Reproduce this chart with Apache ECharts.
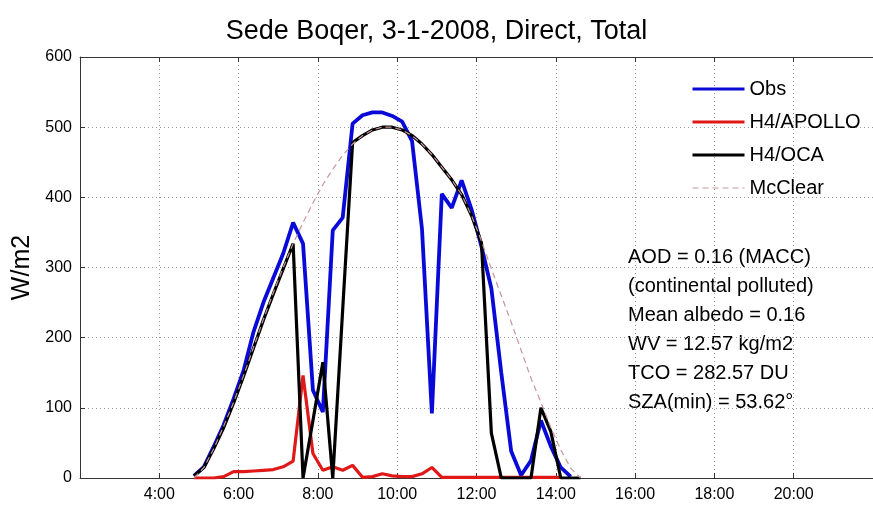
<!DOCTYPE html>
<html>
<head>
<meta charset="utf-8">
<script src="https://cdn.jsdelivr.net/npm/echarts@6/dist/echarts.min.js"></script>
<style>
    html, body {margin: 0; padding: 0; background: #fff;}
    #chart {width: 873px; height: 507px;}
</style>
</head>
<body>
<div id="chart"></div>
<script>
// время (часы, шаг 15 мин)
const times = [4.875, 5.125, 5.375, 5.625, 5.875, 6.125, 6.375, 6.625, 6.875, 7.125,
    7.375, 7.625, 7.875, 8.125, 8.375, 8.625, 8.875, 9.125, 9.375, 9.625,
    9.875, 10.125, 10.375, 10.625, 10.875, 11.125, 11.375, 11.625, 11.875, 12.125,
    12.375, 12.625, 12.875, 13.125, 13.375, 13.625, 13.875, 14.125, 14.375, 14.625]

const obs = [3, 16, 45, 76, 113, 153, 208, 250, 285, 320,
    364, 334, 125, 94, 353, 371, 505, 517, 521, 521,
    516, 508, 480, 355, 92, 405, 385, 424, 383, 330,
    270, 150, 38, 4, 25, 82, 45, 15, 2, null]

const apollo = [0, 0, 0, 2, 9, 9, 10, 11, 12, 16,
    24, 146, 35, 11, 16, 11, 18, 1, 2, 6,
    3, 2, 2, 6, 15, 1, 1, 1, 1, 1,
    1, 1, 1, 1, 1, 1, 1, 1, null, null]

const oca = [3, 15, 42, 72, 107, 145, 185, 225, 262, 298,
    334, 0, 82, 165, 0, 240, 478, 488, 496, 500,
    500, 496, 488, 476, 461, 443, 425, 404, 374, 335,
    64, 0, 0, 0, 0, 100, 66, 0, 0, 0]

const mcclear = [0, 15, 42, 74, 108, 146, 186, 226, 264, 300,
    334, 364, 392, 418, 440, 460, 476, 488, 496, 500,
    500, 496, 488, 476, 461, 443, 425, 404, 374, 338,
    298, 260, 222, 182, 142, 108, 72, 40, 14, 0]

const seriesNames = ['Obs', 'H4/APOLLO', 'H4/OCA', 'McClear']

const infoLines = [
    'AOD = 0.16 (MACC)',
    '(continental polluted)',
    'Mean albedo = 0.16',
    'WV = 12.57 kg/m2',
    'TCO = 282.57 DU',
    'SZA(min) = 53.62°',
]

const FONT = 'Liberation Sans, Arial, sans-serif'

function pairs(vals) {
    return times.map((t, i) => [t, vals[i]])
}

function lineSeries(name, vals, color, width, type) {
    return {
        name: name,
        type: 'line',
        data: pairs(vals),
        symbol: 'none',
        xAxisIndex: 0,
        lineStyle: {color: color, width: width, type: type || 'solid'},
        itemStyle: {color: color},
        emphasis: {disabled: true},
        animation: false,
    }
}

let axisX = {
    type: 'value',
    min: 2,
    max: 22,
    interval: 2,
    axisLine: {lineStyle: {color: '#333', width: 1}},
    axisTick: {inside: true, length: 5, lineStyle: {color: '#333'}},
    splitLine: {show: true, lineStyle: {color: '#999', type: [1, 3]}},
}

// легенда: сплошные линии потолще, у McClear - тонкий пунктир
let legendData = seriesNames.map((name) => ({
    name: name,
    lineStyle: name === 'McClear' ? {width: 1.2} : {width: 3},
}))

let chart = echarts.init(document.getElementById('chart'))
chart.setOption({
    backgroundColor: '#fff',
    animation: false,
    title: {
        text: 'Sede Boqer, 3-1-2008, Direct, Total',
        left: 'center',
        top: 13,
        textStyle: {fontFamily: FONT, fontSize: 27, fontWeight: 'normal', color: '#000'},
    },
    grid: {left: 80, top: 57, right: -7, bottom: 29},
    legend: {
        orient: 'vertical',
        left: 686,
        top: 74,
        itemWidth: 52,
        itemHeight: 14,
        itemGap: 13,
        data: legendData,
        itemStyle: {opacity: 0},
        textStyle: {fontFamily: FONT, fontSize: 20, color: '#000'},
    },
    xAxis: [
        Object.assign({}, axisX, {
            position: 'bottom',
            axisLabel: {
                showMinLabel: false,
                showMaxLabel: false,
                margin: 9,
                color: '#000',
                fontFamily: FONT,
                fontSize: 16,
                formatter: (v) => v + ':00',
            },
        }),
        Object.assign({}, axisX, {
            position: 'top',
            axisLabel: {show: false},
            splitLine: {show: false},
        }),
    ],
    yAxis: {
        type: 'value',
        min: 0,
        max: 600,
        interval: 100,
        name: 'W/m2',
        nameLocation: 'middle',
        nameGap: 44,
        nameTextStyle: {fontFamily: FONT, fontSize: 25, color: '#000'},
        axisLine: {show: true, lineStyle: {color: '#333', width: 1}},
        axisTick: {show: true, inside: true, length: 5, lineStyle: {color: '#333'}},
        axisLabel: {margin: 8, color: '#000', fontFamily: FONT, fontSize: 16},
        splitLine: {show: true, lineStyle: {color: '#999', type: [1, 3]}},
    },
    graphic: [{
        type: 'text',
        left: 628,
        top: 243,
        style: {
            text: infoLines.join('\n'),
            font: '20px ' + FONT,
            lineHeight: 29,
            fill: '#000',
        },
    }],
    series: [
        lineSeries('Obs', obs, '#0a0ad8', 3.8),
        lineSeries('H4/APOLLO', apollo, '#e01818', 3.2),
        lineSeries('H4/OCA', oca, '#000', 3.2),
        lineSeries('McClear', mcclear, '#c8959a', 1.2, [6, 4]),
    ],
})
</script>
</body>
</html>
